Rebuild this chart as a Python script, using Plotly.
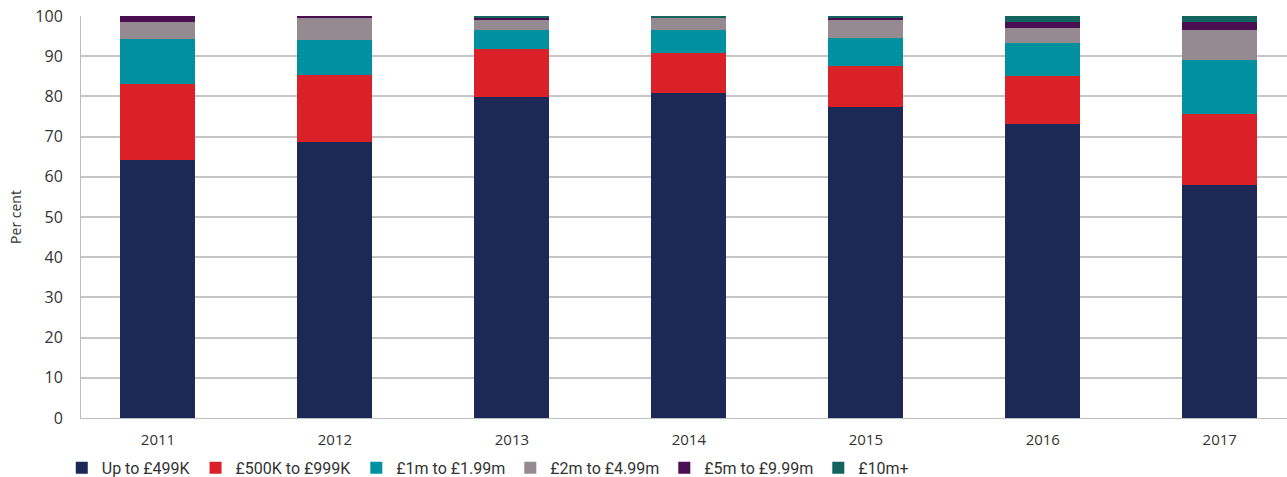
import plotly.graph_objects as go

# Share of deals by size band, per cent
years = ["2011", "2012", "2013", "2014", "2015", "2016", "2017"]

up_to_499k = [64.2, 68.7, 79.9, 80.8, 77.4, 73.1, 58.0]
k500_to_999k = [18.9, 16.6, 11.9, 10.0, 10.2, 12.0, 17.6]
m1_to_199 = [11.2, 8.7, 4.7, 5.7, 6.9, 8.2, 13.5]
m2_to_499 = [4.2, 5.6, 2.5, 3.0, 4.5, 3.7, 7.4]
m5_to_999 = [1.5, 0.4, 0.5, 0.0, 0.5, 1.5, 2.0]
m10_plus = [0.0, 0.0, 0.5, 0.5, 0.5, 1.5, 1.5]

series = [
    ("Up to £499K", up_to_499k, "#1c2957"),
    ("£500K to £999K", k500_to_999k, "#da2128"),
    ("£1m to £1.99m", m1_to_199, "#0090a0"),
    ("£2m to £4.99m", m2_to_499, "#958a90"),
    ("£5m to £9.99m", m5_to_999, "#4a0f52"),
    ("£10m+", m10_plus, "#12645e"),
]

fig = go.Figure()
for name, vals, col in series:
    fig.add_trace(go.Bar(x=years, y=vals, name=name, marker_color=col,
                         marker_line_width=0, width=0.424))

fig.update_layout(
    barmode="stack",
    width=1287, height=477,
    margin=dict(l=81, r=0, t=16, b=59),
    plot_bgcolor="white",
    paper_bgcolor="white",
    font=dict(family="Open Sans", size=14, color="#333333"),
    # legend placed in container coords so it doesn't push the margins
    legend=dict(orientation="h", xref="container", yref="container",
                x=0.048, xanchor="left", y=0.019, yanchor="middle",
                font=dict(family="Roboto", size=16, color="#333333"),
                traceorder="normal", itemwidth=30),
    showlegend=True,
)

fig.update_xaxes(range=[-0.435, 6.38], showgrid=False, showline=True,
                 linecolor="#bdbdbd", linewidth=1, ticks="", automargin=False,
                 ticklabelstandoff=8, tickfont=dict(size=15))
fig.update_yaxes(range=[0, 100], dtick=10, showgrid=True, gridcolor="#c6c6c6",
                 gridwidth=1.5, showline=True, linecolor="#bdbdbd", linewidth=1,
                 zeroline=False, ticks="", automargin=False, ticklabelstandoff=14,
                 title=dict(text="Per cent", standoff=10, font=dict(size=14)),
                 tickfont=dict(size=16))

# drop the browser's default body margin so the figure sits flush in the window
fig.write_html("out.html", config={"displayModeBar": False},
               post_script="document.body.style.margin='0';")
